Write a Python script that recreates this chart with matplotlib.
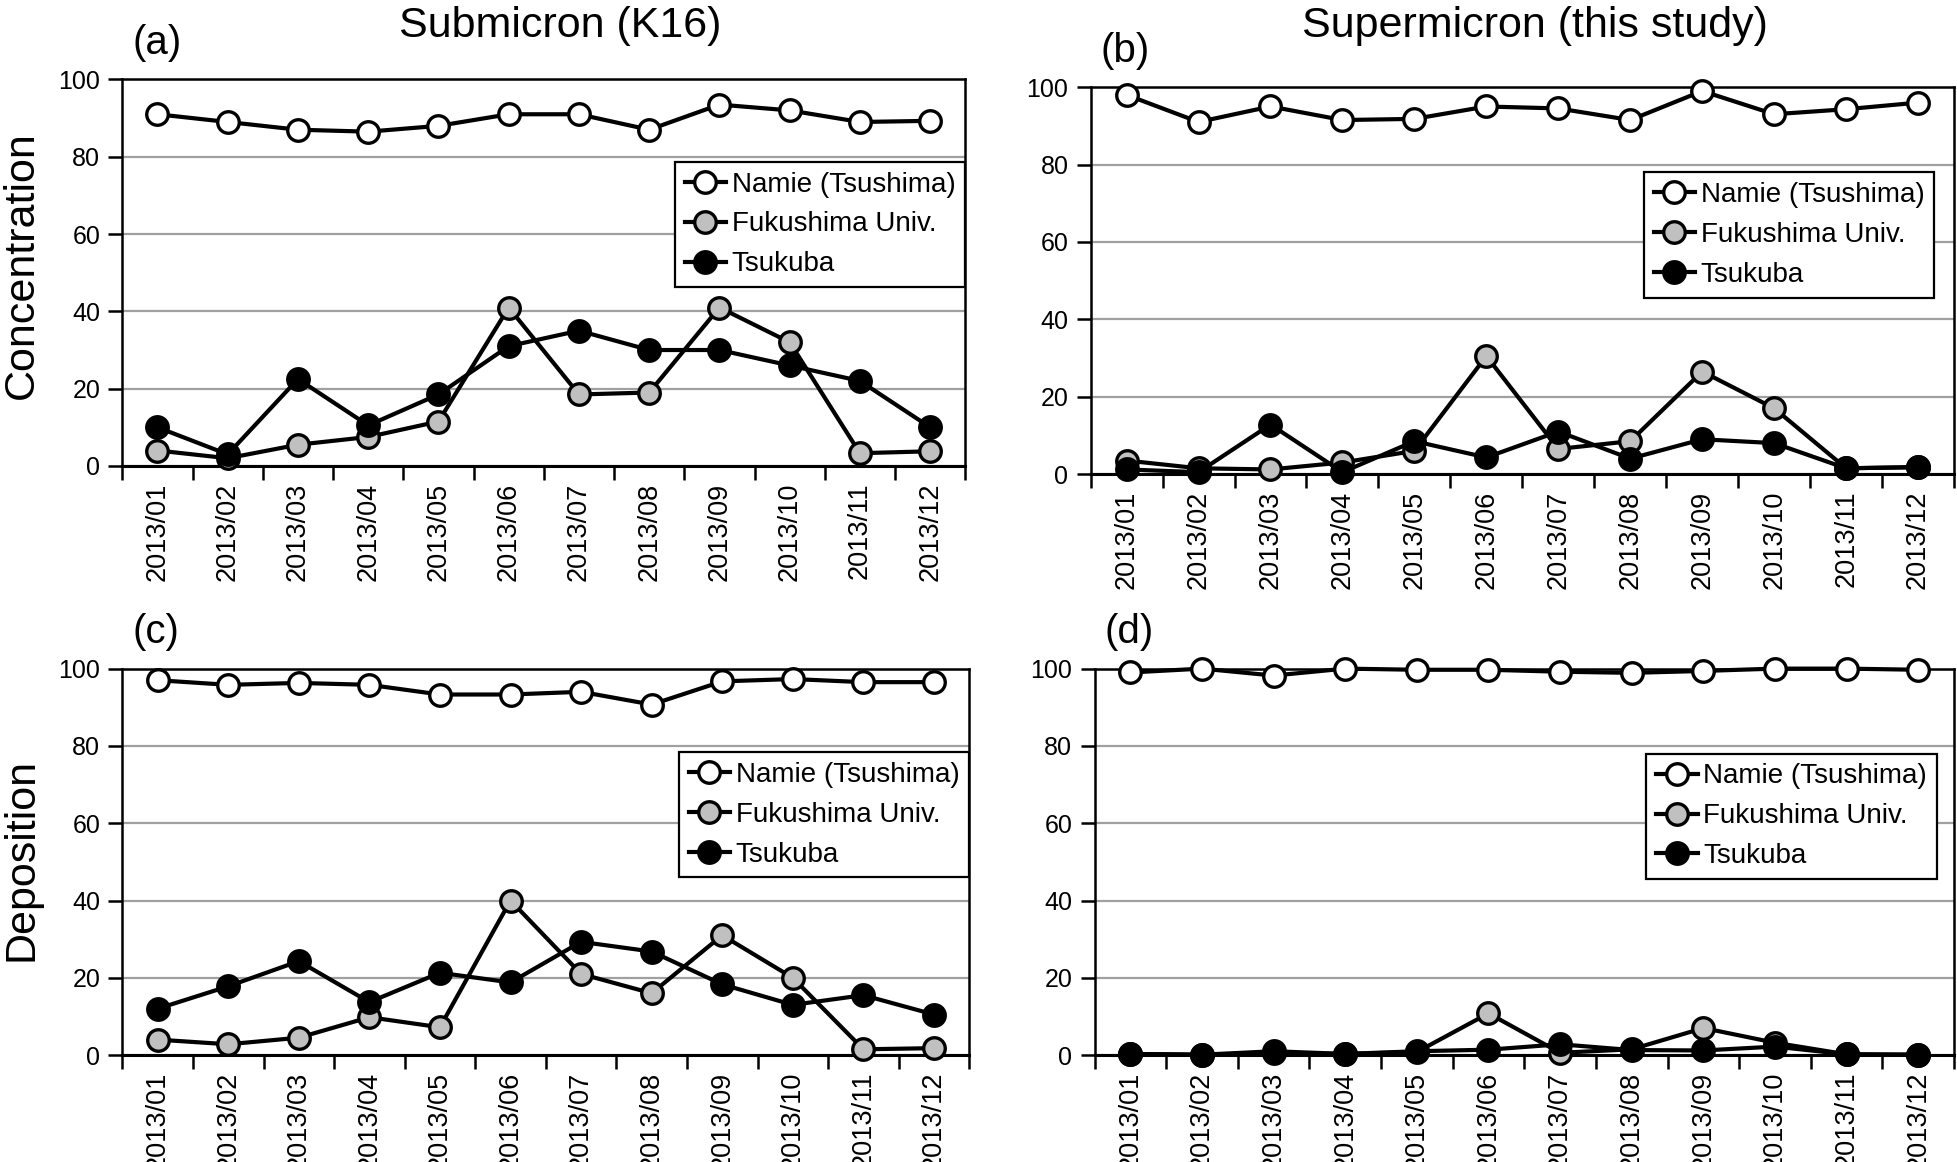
import matplotlib
matplotlib.use("Agg")
import matplotlib.pyplot as plt
from matplotlib.font_manager import FontProperties
import numpy as np

# fonts: narrow Arial-like for most text, regular for axis titles / dates
NARROW = ["Liberation Sans Narrow", "Liberation Sans", "DejaVu Sans"]
REG = ["Liberation Sans", "DejaVu Sans"]

months = ["2013/01", "2013/02", "2013/03", "2013/04", "2013/05", "2013/06",
          "2013/07", "2013/08", "2013/09", "2013/10", "2013/11", "2013/12"]
stations = ["Namie (Tsushima)", "Fukushima Univ.", "Tsukuba"]

# (a) submicron concentration
a_namie = [91, 89, 87, 86.5, 88, 91, 91, 87, 93.5, 92, 89, 89.3]
a_fuku = [4, 2, 5.5, 7.5, 11.5, 41, 18.5, 19, 41, 32, 3.3, 3.8]
a_tsuk = [10, 3, 22.5, 10.5, 18.5, 31, 35, 30, 30, 26, 22, 10]
# (b) supermicron concentration
b_namie = [98, 91, 95, 91.5, 91.8, 95, 94.5, 91.5, 99, 93, 94.3, 96]
b_fuku = [3.5, 1.5, 1.2, 3, 6, 30.5, 6.5, 8.5, 26.5, 17, 1.5, 1.8]
b_tsuk = [1.2, 0.5, 12.8, 0.5, 8.5, 4.3, 11, 4, 9, 8, 1.5, 1.8]
# (c) submicron deposition
c_namie = [97, 95.8, 96.3, 95.8, 93.3, 93.3, 94, 90.7, 96.7, 97.3, 96.5, 96.5]
c_fuku = [4, 2.8, 4.5, 9.8, 7.2, 40, 21, 16, 31, 20, 1.5, 1.8]
c_tsuk = [12, 17.8, 24.3, 13.7, 21.3, 18.8, 29.3, 26.8, 18.3, 13, 15.5, 10.5]
# (d) supermicron deposition
d_namie = [99, 100, 98.2, 100, 99.7, 99.7, 99.2, 98.9, 99.4, 100, 100, 99.7]
d_fuku = [0.3, 0.1, 0.5, 0.3, 0.8, 10.8, 0.6, 1.5, 7, 3.2, 0.2, 0.1]
d_tsuk = [0.3, 0.1, 1.0, 0.3, 1.0, 1.4, 2.8, 1.3, 1.2, 2.2, 0.2, 0.1]

FACES = ["white", "#C0C0C0", "black"]


def panel(ax, series, tag, leg_top, leg_right):
    x = np.arange(len(months))
    for ys, name, fc in zip(series, stations, FACES):
        ax.plot(x, ys, color="black", lw=3.0, marker="o", ms=15.5,
                mfc=fc, mec="black", mew=2.4, label=name, zorder=3, clip_on=False)
    ax.set_xlim(-0.5, len(months) - 0.5)
    ax.set_ylim(0, 100)
    ax.set_yticks(range(0, 101, 20))
    ax.set_yticklabels([str(v) for v in range(0, 101, 20)], family=NARROW, fontsize=18)
    ax.set_xticks(x)
    ax.set_xticklabels(months, rotation=90, family=REG, fontsize=19.5)
    ax.set_xticks(np.arange(-0.5, len(months)), minor=True)
    ax.tick_params(axis="x", which="major", length=0, pad=12)
    ax.tick_params(axis="x", which="minor", length=10, width=1.8, direction="out")
    ax.tick_params(axis="y", length=10, width=1.8, direction="out", pad=6)
    ax.grid(axis="y", color="#A0A0A0", lw=1.6, zorder=0)
    for s in ax.spines.values():
        s.set_linewidth(1.8)
    ax.spines["bottom"].set_linewidth(2.2)
    ax.set_axisbelow(True)
    leg = ax.legend(loc="upper right", bbox_to_anchor=(leg_right, leg_top),
                    prop=FontProperties(family=NARROW, size=20), frameon=True,
                    fancybox=False, edgecolor="black", framealpha=1,
                    handlelength=1.5, handletextpad=0.2, borderpad=0.35,
                    labelspacing=0.5, borderaxespad=0)
    leg.get_frame().set_linewidth(1.6)
    leg.set_zorder(5)
    ax.text(0.012, 1.045, tag, transform=ax.transAxes, family=NARROW, fontsize=29,
            ha="left", va="bottom")


fig = plt.figure(figsize=(19.58, 11.62), dpi=100)
ax_a = fig.add_axes([0.0625, 0.599, 0.4305, 0.3326])
ax_b = fig.add_axes([0.557, 0.592, 0.441, 0.333])
ax_c = fig.add_axes([0.0625, 0.092, 0.4325, 0.3326])
ax_d = fig.add_axes([0.559, 0.092, 0.439, 0.3326])

panel(ax_a, [a_namie, a_fuku, a_tsuk], "(a)", 0.787, 1.0)
panel(ax_b, [b_namie, b_fuku, b_tsuk], "(b)", 0.78, 0.977)
panel(ax_c, [c_namie, c_fuku, c_tsuk], "(c)", 0.784, 1.0)
panel(ax_d, [d_namie, d_fuku, d_tsuk], "(d)", 0.78, 0.98)

fig.text(0.286, 0.978, "Submicron (K16)", family=NARROW, fontsize=31, ha="center", va="center")
fig.text(0.784, 0.978, "Supermicron (this study)", family=NARROW, fontsize=31, ha="center", va="center")
fig.text(0.011, 0.772, "Concentration", family=REG, fontsize=31, rotation=90, ha="center", va="center")
fig.text(0.011, 0.26, "Deposition", family=REG, fontsize=31, rotation=90, ha="center", va="center")

fig.savefig("out.png", dpi=100)
